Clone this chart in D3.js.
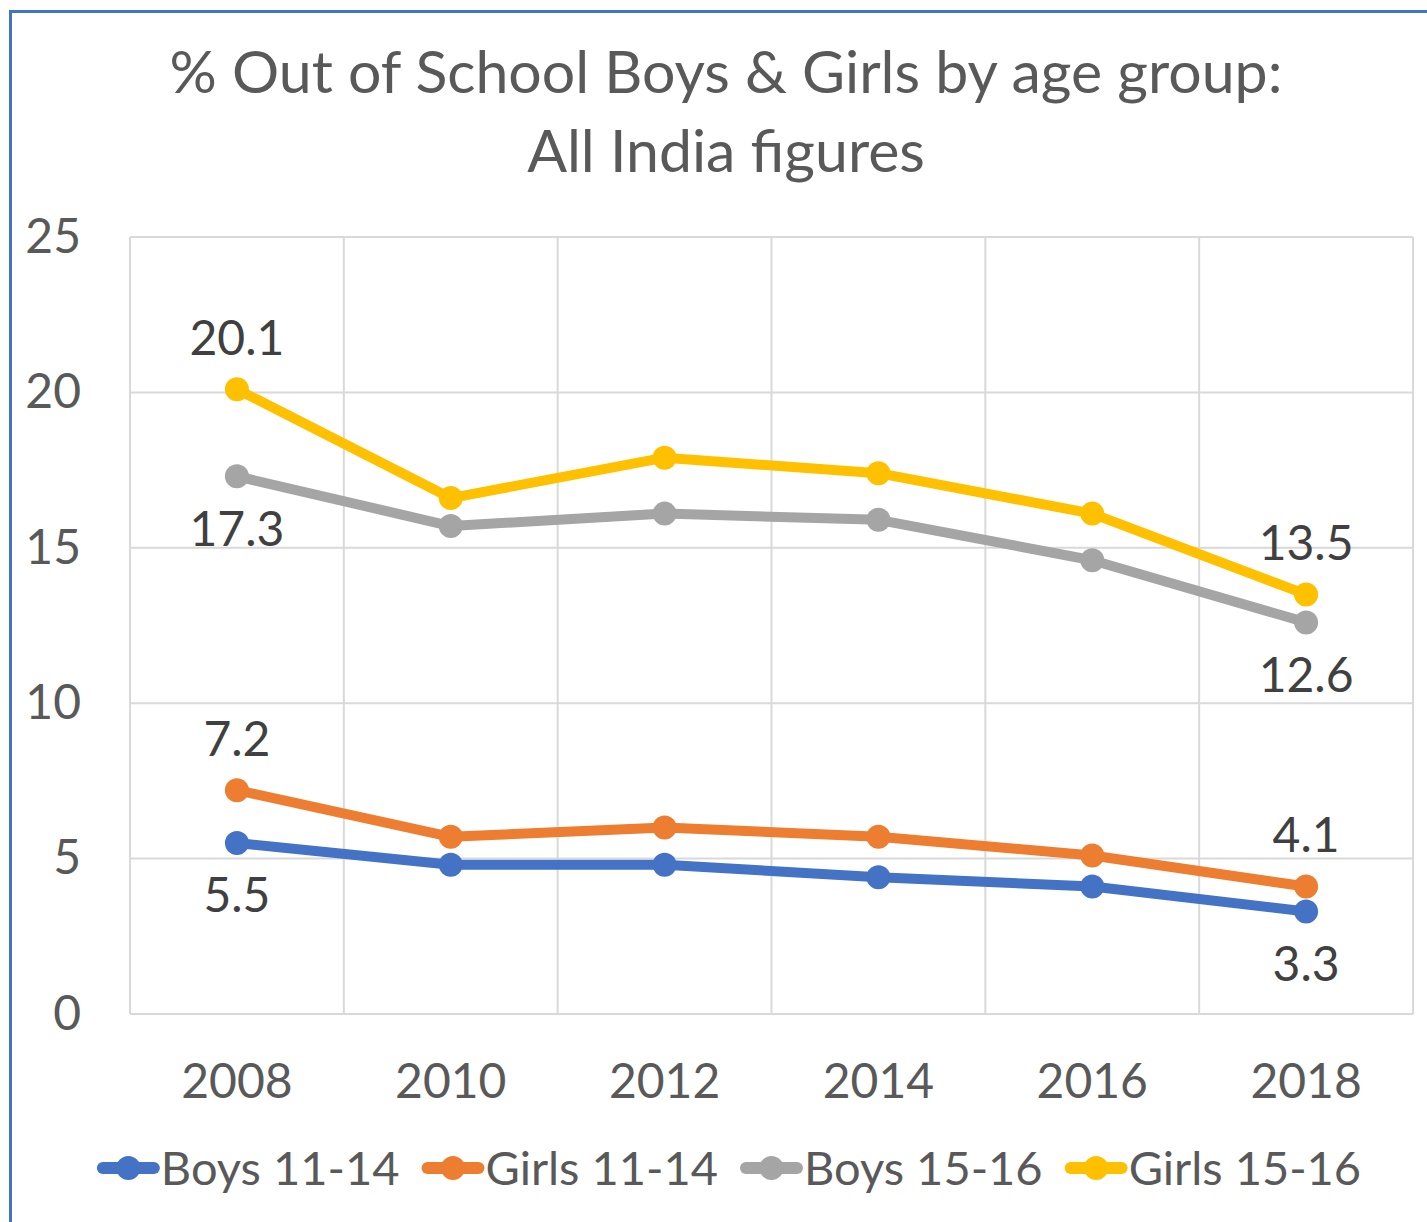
<!DOCTYPE html>
<html>
<head>
<meta charset="utf-8">
<script src="https://cdn.jsdelivr.net/npm/d3@7"></script>
<style>
  html, body { margin: 0; padding: 0; background: #fff; }
  svg { display: block; font-family: Lato, "Open Sans", sans-serif; }
</style>
</head>
<body>
<svg id="chart" width="1427" height="1222"></svg>
<script>
// --- Data ---
const years = ["2008", "2010", "2012", "2014", "2016", "2018"];
const seriesNames = ["Boys 11-14", "Girls 11-14", "Boys 15-16", "Girls 15-16"];
const seriesColors = ["#4472C4", "#ED7D31", "#A5A5A5", "#FFC000"];
const boys1114 = [5.5, 4.8, 4.8, 4.4, 4.1, 3.3];
const girls1114 = [7.2, 5.7, 6.0, 5.7, 5.1, 4.1];
const boys1516 = [17.3, 15.7, 16.1, 15.9, 14.6, 12.6];
const girls1516 = [20.1, 16.6, 17.9, 17.4, 16.1, 13.5];
const yTicks = [0, 5, 10, 15, 20, 25];
const titleLines = ["% Out of School Boys & Girls by age group:", "All India figures"];
// which side the end labels sit on: -1 above, +1 below
const labelSide = [1, -1, 1, -1];

const seriesValues = [boys1114, girls1114, boys1516, girls1516];

const W = 1427, H = 1222;
const plot = { left: 130, right: 1413, top: 237, bottom: 1014 };

const svg = d3.select("#chart");

// chart frame (blue outline, cut off on the right/bottom)
svg.append("rect")
  .attr("x", 10.5).attr("y", 11.5)
  .attr("width", W + 20).attr("height", H + 20)
  .attr("fill", "none")
  .attr("stroke", "#4472C4")
  .attr("stroke-width", 3);

// --- Title ---
svg.append("g").attr("class", "title")
  .selectAll("text")
  .data(titleLines)
  .join("text")
  .attr("x", 726)
  .attr("y", (d, i) => 93 + i * 79)
  .attr("text-anchor", "middle")
  .attr("fill", "#595959")
  .attr("font-size", 59)
  .text(d => d);

// --- Scales ---
const x = d3.scaleBand().domain(years).range([plot.left, plot.right]).padding(0);
const y = d3.scaleLinear().domain([0, 25]).range([plot.bottom, plot.top]);
const cx = d => x(d) + x.bandwidth() / 2;

// --- Gridlines ---
const grid = svg.append("g").attr("class", "grid")
  .attr("stroke", "#D9D9D9").attr("stroke-width", 2);

grid.selectAll("line.h")
  .data(yTicks)
  .join("line")
  .attr("class", "h")
  .attr("x1", plot.left).attr("x2", plot.right)
  .attr("y1", d => y(d)).attr("y2", d => y(d));

const vBounds = years.map(d => x(d)).concat([plot.right]);
grid.selectAll("line.v")
  .data(vBounds)
  .join("line")
  .attr("class", "v")
  .attr("x1", d => d).attr("x2", d => d)
  .attr("y1", plot.top).attr("y2", plot.bottom);

// --- Axes ---
const yAxis = svg.append("g")
  .attr("transform", `translate(${plot.left},0)`)
  .call(d3.axisLeft(y).tickValues(yTicks).tickSize(0).tickPadding(49));
yAxis.select(".domain").remove();
yAxis.selectAll("text")
  .attr("fill", "#595959")
  .attr("font-size", 48)
  .attr("font-family", "Lato, 'Open Sans', sans-serif");

const xAxis = svg.append("g")
  .attr("transform", `translate(0,${plot.bottom})`)
  .call(d3.axisBottom(x).tickSize(0).tickPadding(50));
xAxis.select(".domain").remove();
xAxis.selectAll("text")
  .attr("fill", "#595959")
  .attr("font-size", 48)
  .attr("font-family", "Lato, 'Open Sans', sans-serif");

// --- Lines & markers ---
const line = d3.line()
  .x((v, i) => cx(years[i]))
  .y(v => y(v));

const series = svg.append("g").attr("class", "series")
  .selectAll("g")
  .data(seriesValues)
  .join("g");

series.append("path")
  .attr("d", d => line(d))
  .attr("fill", "none")
  .attr("stroke", (d, i) => seriesColors[i])
  .attr("stroke-width", 10)
  .attr("stroke-linejoin", "round")
  .attr("stroke-linecap", "round");

series.each(function (vals, si) {
  d3.select(this).selectAll("circle")
    .data(vals)
    .join("circle")
    .attr("cx", (v, i) => cx(years[i]))
    .attr("cy", v => y(v))
    .attr("r", 12)
    .attr("fill", seriesColors[si]);

  // data labels on first and last points
  const idx = [0, vals.length - 1];
  d3.select(this).selectAll("text")
    .data(idx)
    .join("text")
    .attr("x", i => cx(years[i]))
    .attr("y", i => y(vals[i]) + labelSide[si] * 52)
    .attr("dy", "0.36em")
    .attr("text-anchor", "middle")
    .attr("fill", "#404040")
    .attr("font-size", 48)
    .text(i => vals[i].toFixed(1));
});

// --- Legend ---
const legend = svg.append("g").attr("class", "legend");
const legendY = 1168;
const items = legend.selectAll("g")
  .data(seriesNames)
  .join("g");

items.append("line")
  .attr("x1", 6).attr("x2", 57)
  .attr("y1", 0).attr("y2", 0)
  .attr("stroke", (d, i) => seriesColors[i])
  .attr("stroke-width", 12)
  .attr("stroke-linecap", "round");
items.append("circle")
  .attr("cx", 31.5).attr("cy", 0).attr("r", 12)
  .attr("fill", (d, i) => seriesColors[i]);
items.append("text")
  .attr("x", 64)
  .attr("dy", "0.36em")
  .attr("fill", "#595959")
  .attr("font-size", 47)
  .text(d => d);

// lay the entries out in a row, centred under the plot
const gap = 22;
const widths = [];
items.each(function () {
  widths.push(64 + d3.select(this).select("text").node().getComputedTextLength());
});
const total = d3.sum(widths) + gap * (widths.length - 1);
let xPos = 729 - total / 2;
items.attr("transform", (d, i) => {
  const t = `translate(${xPos},${legendY})`;
  xPos += widths[i] + gap;
  return t;
});
</script>
</body>
</html>
